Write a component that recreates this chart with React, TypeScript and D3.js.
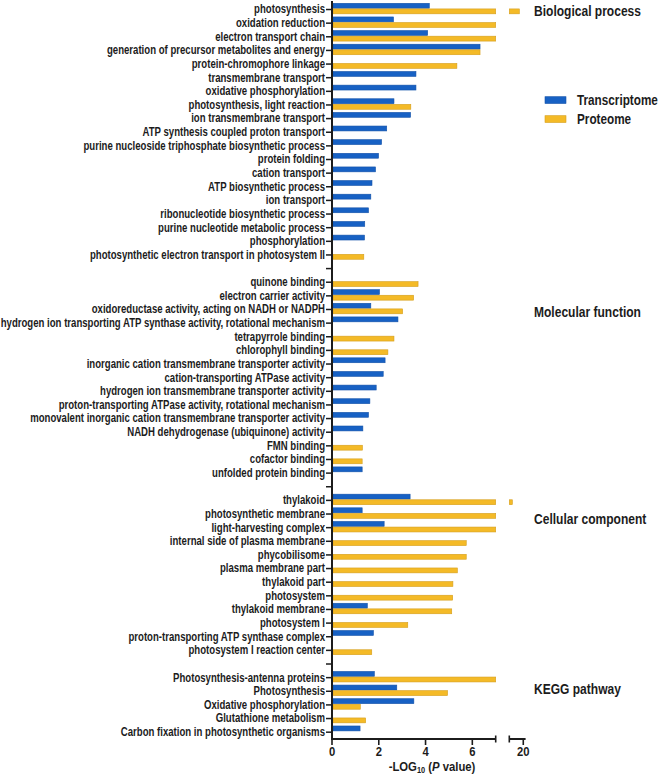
import React from "react";
import * as d3 from "d3";

// ---- Data ----
const bpCategories = [
  "photosynthesis",
  "oxidation reduction",
  "electron transport chain",
  "generation of precursor metabolites and energy",
  "protein-chromophore linkage",
  "transmembrane transport",
  "oxidative phosphorylation",
  "photosynthesis, light reaction",
  "ion transmembrane transport",
  "ATP synthesis coupled proton transport",
  "purine nucleoside triphosphate biosynthetic process",
  "protein folding",
  "cation transport",
  "ATP biosynthetic process",
  "ion transport",
  "ribonucleotide biosynthetic process",
  "purine nucleotide metabolic process",
  "phosphorylation",
  "photosynthetic electron transport in photosystem II",
];
const bpTranscriptome = [4.16, 2.63, 4.09, 6.33, null, 3.59, 3.59, 2.65, 3.36, 2.34, 2.12, 1.99, 1.86, 1.71, 1.66, 1.56, 1.4, 1.39, null];
// values above 7 that do not reach 19.4 sit in the axis break (drawn to the break)
const bpProteome = [19.83, 8.0, 8.0, 6.33, 5.34, null, null, 3.37, null, null, null, null, null, null, null, null, null, null, 1.36];

const mfCategories = [
  "quinone binding",
  "electron carrier activity",
  "oxidoreductase activity, acting on NADH or NADPH",
  "hydrogen ion transporting ATP synthase activity, rotational mechanism",
  "tetrapyrrole binding",
  "chlorophyll binding",
  "inorganic cation transmembrane transporter activity",
  "cation-transporting ATPase activity",
  "hydrogen ion transmembrane transporter activity",
  "proton-transporting ATPase activity, rotational mechanism",
  "monovalent inorganic cation transmembrane transporter activity",
  "NADH dehydrogenase (ubiquinone) activity",
  "FMN binding",
  "cofactor binding",
  "unfolded protein binding",
];
const mfTranscriptome = [null, 2.03, 1.66, 2.82, null, null, 2.27, 2.19, 1.89, 1.62, 1.56, 1.32, null, null, 1.29];
const mfProteome = [3.68, 3.49, 3.02, null, 2.65, 2.39, null, null, null, null, null, null, 1.3, 1.29, null];

const ccCategories = [
  "thylakoid",
  "photosynthetic membrane",
  "light-harvesting complex",
  "internal side of plasma membrane",
  "phycobilisome",
  "plasma membrane part",
  "thylakoid part",
  "photosystem",
  "thylakoid membrane",
  "photosystem I",
  "proton-transporting ATP synthase complex",
  "photosystem I reaction center",
];
const ccTranscriptome = [3.34, 1.29, 2.23, null, null, null, null, null, 1.51, null, 1.77, null];
const ccProteome = [19.53, 8.0, 8.0, 5.74, 5.74, 5.36, 5.17, 5.16, 5.12, 3.24, null, 1.7];

const keggCategories = [
  "Photosynthesis-antenna proteins",
  "Photosynthesis",
  "Oxidative phosphorylation",
  "Glutathione metabolism",
  "Carbon fixation in photosynthetic organisms",
];
const keggTranscriptome = [1.81, 2.77, 3.5, null, 1.2];
const keggProteome = [8.0, 4.94, 1.21, 1.44, null];

const sectionNames = ["Biological process", "Molecular function", "Cellular component", "KEGG pathway"];
const seriesNames = ["Transcriptome", "Proteome"];
const mainTicks = [0, 2, 4, 6];
const breakTicks = [20];

// ---- Styling ----
const BLUE = "#1761C4";
const BLUE_EDGE = "#1452A8";
const YELLOW = "#F4BA27";
const YELLOW_EDGE = "#D59E1C";
const INK = "#1c1c1c";
const FONT = "'Liberation Sans', Arial, Helvetica, sans-serif";

type Row = { key: string; label: string | null; t: number | null; p: number | null; section: number };

const sections = [
  { cats: bpCategories, t: bpTranscriptome, p: bpProteome },
  { cats: mfCategories, t: mfTranscriptome, p: mfProteome },
  { cats: ccCategories, t: ccTranscriptome, p: ccProteome },
  { cats: keggCategories, t: keggTranscriptome, p: keggProteome },
];

const rows: Row[] = [];
sections.forEach((s, si) => {
  if (si > 0) rows.push({ key: `__gap${si}`, label: null, t: null, p: null, section: si });
  s.cats.forEach((c, i) => rows.push({ key: `${si}-${c}`, label: c, t: s.t[i], p: s.p[i], section: si }));
});

export default function App() {
  const W = 660;
  const H = 776;
  const axisX = 332;
  const axisY = 739;

  const y = d3.scaleBand<string>().domain(rows.map((r) => r.key)).range([2.7, axisY]).padding(0);
  const bw = y.bandwidth();
  const cy = (k: string) => (y(k) as number) + bw / 2;

  const xMain = d3.scaleLinear().domain([0, 7]).range([axisX, 495.7]);
  const xBreak = d3.scaleLinear().domain([19.4, 20.1]).range([509.3, 525.6]);

  const barH = 4.9;

  const renderBar = (v: number | null, yTop: number, fill: string, edge: string, key: string) => {
    if (v == null) return null;
    const parts: JSX.Element[] = [];
    const x0 = axisX + 1;
    const mainEnd = xMain(Math.min(v, 7));
    parts.push(
      <rect key={key + "a"} x={x0} y={yTop} width={Math.max(0, mainEnd - x0)} height={barH} fill={fill} stroke={edge} strokeWidth={0.6} />
    );
    if (v > 19.4) {
      const bx0 = xBreak(19.4);
      parts.push(
        <rect key={key + "b"} x={bx0} y={yTop} width={xBreak(Math.min(v, 20.1)) - bx0} height={barH} fill={fill} stroke={edge} strokeWidth={0.6} />
      );
    }
    return parts;
  };

  const sectionLabelY = [15.5, 317.3, 524.3, 694];

  return (
    <svg width={W} height={H} style={{ position: "absolute", left: 0, top: 0, background: "#fff" }} fontFamily={FONT}>
      {/* bars */}
      {rows.map((r) => {
        const c = cy(r.key);
        return (
          <g key={r.key}>
            {renderBar(r.t, c - 6.2, BLUE, BLUE_EDGE, r.key + "t")}
            {renderBar(r.p, c - 0.6, YELLOW, YELLOW_EDGE, r.key + "p")}
          </g>
        );
      })}

      {/* y axis */}
      <line x1={axisX} x2={axisX} y1={1} y2={axisY + 1} stroke={INK} strokeWidth={2} />
      {rows.map((r) => (
        <line key={"tk" + r.key} x1={axisX - 6} x2={axisX} y1={cy(r.key)} y2={cy(r.key)} stroke={INK} strokeWidth={1.5} />
      ))}
      {rows.map((r) =>
        r.label ? (
          <text
            key={"lb" + r.key}
            transform={`translate(${axisX - 7},${cy(r.key) + 3.9}) scale(0.8,1)`}
            textAnchor="end"
            fontSize={12}
            fontWeight="bold"
            fill={INK}
          >
            {r.label}
          </text>
        ) : null
      )}

      {/* x axis: main segment */}
      <line x1={axisX - 1} x2={xMain(7)} y1={axisY} y2={axisY} stroke={INK} strokeWidth={2} />
      <line x1={xMain(7)} x2={xMain(7)} y1={axisY - 3.5} y2={axisY + 3.5} stroke={INK} strokeWidth={1.6} />
      {mainTicks.map((t) => (
        <g key={"xt" + t}>
          <line x1={xMain(t)} x2={xMain(t)} y1={axisY} y2={axisY + 6} stroke={INK} strokeWidth={1.6} />
          <text transform={`translate(${xMain(t)},${axisY + 17}) scale(0.9,1)`} textAnchor="middle" fontSize={12.5} fontWeight="bold" fill={INK}>
            {t}
          </text>
        </g>
      ))}
      {/* x axis: segment after break */}
      <line x1={xBreak(19.4)} x2={xBreak(20.1)} y1={axisY} y2={axisY} stroke={INK} strokeWidth={2} />
      <line x1={xBreak(19.4)} x2={xBreak(19.4)} y1={axisY - 3.5} y2={axisY + 3.5} stroke={INK} strokeWidth={1.6} />
      {breakTicks.map((t) => (
        <g key={"xb" + t}>
          <line x1={xBreak(t)} x2={xBreak(t)} y1={axisY} y2={axisY + 6} stroke={INK} strokeWidth={1.6} />
          <text transform={`translate(${xBreak(t)},${axisY + 17}) scale(0.9,1)`} textAnchor="middle" fontSize={12.5} fontWeight="bold" fill={INK}>
            {t}
          </text>
        </g>
      ))}
      <text transform={`translate(432,770.5) scale(0.87,1)`} textAnchor="middle" fontSize={13} fontWeight="bold" fill={INK}>
        <tspan>-LOG</tspan>
        <tspan fontSize={8.5} dy={2.5}>10</tspan>
        <tspan dy={-2.5}> (</tspan>
        <tspan fontStyle="italic">P</tspan>
        <tspan> value)</tspan>
      </text>

      {/* section labels */}
      {sectionNames.map((s, i) => (
        <text key={s} transform={`translate(534,${sectionLabelY[i]}) scale(0.86,1)`} fontSize={14} fontWeight="bold" fill={INK}>
          {s}
        </text>
      ))}

      {/* legend */}
      {seriesNames.map((s, i) => (
        <g key={s} transform={`translate(545,${96.7 + i * 19})`}>
          <rect x={0} y={0} width={21} height={6.8} fill={i === 0 ? BLUE : YELLOW} stroke={i === 0 ? BLUE_EDGE : YELLOW_EDGE} strokeWidth={0.6} />
          <text transform={`translate(32,8.2) scale(0.84,1)`} fontSize={14} fontWeight="bold" fill={INK}>
            {s}
          </text>
        </g>
      ))}
    </svg>
  );
}
